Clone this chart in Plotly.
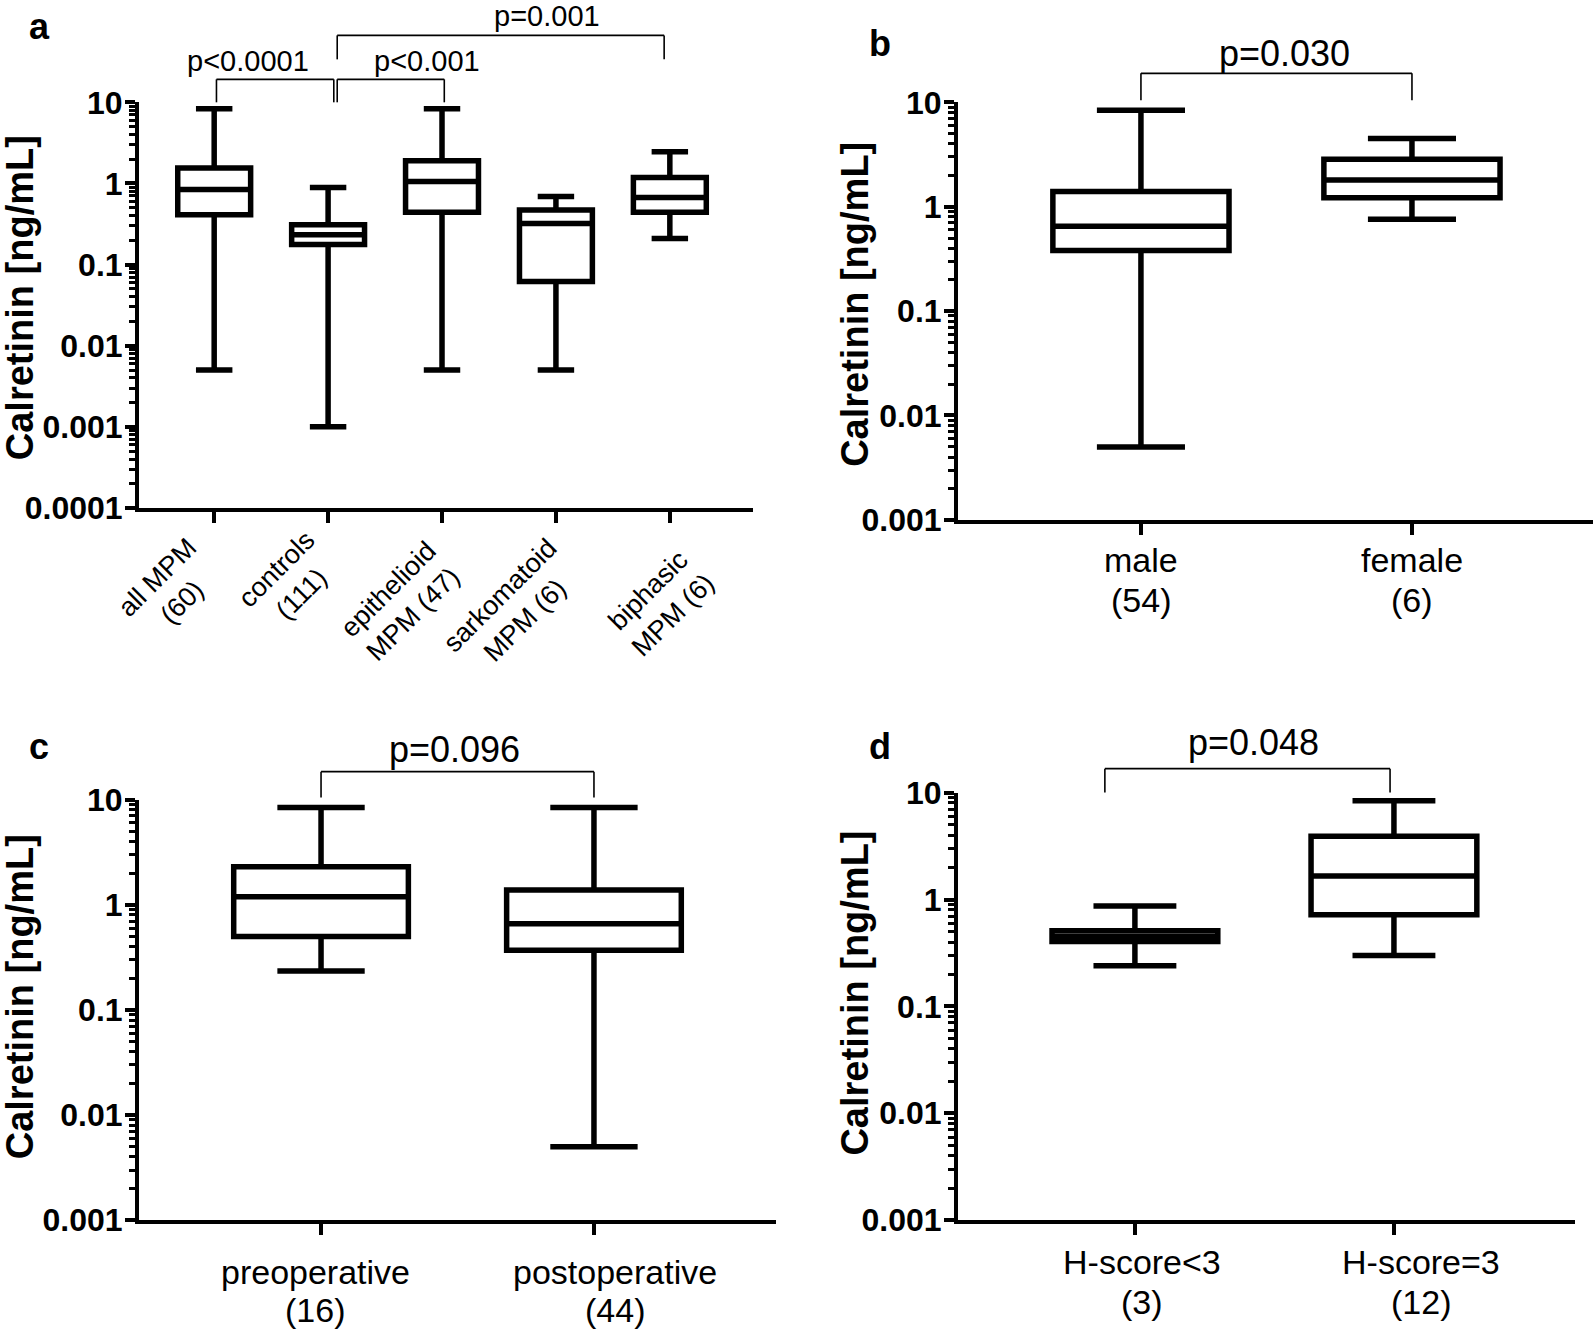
import plotly.graph_objects as go

W, H = 1593, 1334

# ---------------- data ----------------
a_cats = ["all MPM<br>(60)", "controls<br>(111)", "epithelioid<br>MPM (47)", "sarkomatoid<br>MPM (6)", "biphasic<br>MPM (6)"]
a_min = [0.005, 0.001, 0.005, 0.005, 0.21]
a_q1 = [0.41, 0.177, 0.44, 0.062, 0.44]
a_med = [0.84, 0.233, 1.06, 0.32, 0.67]
a_q3 = [1.55, 0.31, 1.9, 0.47, 1.18]
a_max = [8.3, 0.89, 8.3, 0.69, 2.45]

b_cats = ["male<br>(54)", "female<br>(6)"]
b_min = [0.005, 0.76]
b_q1 = [0.38, 1.22]
b_med = [0.65, 1.8]
b_q3 = [1.4, 2.85]
b_max = [8.4, 4.5]

c_cats = ["preoperative<br>(16)", "postoperative<br>(44)"]
c_min = [0.235, 0.005]
c_q1 = [0.5, 0.37]
c_med = [1.19, 0.66]
c_q3 = [2.3, 1.38]
c_max = [8.4, 8.4]

d_cats = ["H-score<3<br>(3)", "H-score=3<br>(12)"]
d_min = [0.24, 0.30]
d_q1 = [0.405, 0.72]
d_med = [0.45, 1.66]
d_q3 = [0.51, 3.9]
d_max = [0.87, 8.4]

a_tickvals = [0.0001, 0.001, 0.01, 0.1, 1, 10]
a_ticktext = ["0.0001", "0.001", "0.01", "0.1", "1", "10"]
bcd_tickvals = [0.001, 0.01, 0.1, 1, 10]
bcd_ticktext = ["0.001", "0.01", "0.1", "1", "10"]

pvals_a = ["p<0.0001", "p<0.001", "p=0.001"]
p_b, p_c, p_d = "p=0.030", "p=0.096", "p=0.048"
ytitle = "Calretinin [ng/mL]"

# ---------------- styling ----------------
FONT = "Liberation Sans, Arial"
LW = 5.5


def T(y):
    # target screen pixel row -> layout pixel row (compensates the capture's vertical squeeze)
    return (y - 17.6) / 0.974


def px_x(p):
    return p / W


def px_y(p):
    return 1 - T(p) / H


def minor_vals(lo, hi):
    vals = []
    e = lo
    while e < hi:
        for k in range(2, 10):
            vals.append(k * 10 ** e)
        e += 1
    return vals


fig = go.Figure()


def add_box(cats, lo, q1, med, q3, hi, xa, ya, width):
    fig.add_trace(go.Box(
        x=cats, lowerfence=lo, q1=q1, median=med, q3=q3, upperfence=hi,
        xaxis=xa, yaxis=ya, boxpoints=False, fillcolor="white",
        line=dict(color="black", width=LW), width=width, whiskerwidth=0.5,
        showlegend=False, hoverinfo="skip"))


add_box(a_cats, a_min, a_q1, a_med, a_q3, a_max, "x", "y", 0.64)
add_box(b_cats, b_min, b_q1, b_med, b_q3, b_max, "x2", "y2", 0.65)
add_box(c_cats, c_min, c_q1, c_med, c_q3, c_max, "x3", "y3", 0.64)
add_box(d_cats, d_min, d_q1, d_med, d_q3, d_max, "x4", "y4", 0.64)


def xax(left, right, rng):
    return dict(domain=[px_x(left), px_x(right)], type="category", range=rng,
                showline=True, linewidth=4, linecolor="black", ticks="outside",
                ticklen=11, tickwidth=4, tickcolor="black", showticklabels=False,
                showgrid=False, zeroline=False, fixedrange=True)


def yax(top, bottom, rng, tv, tt):
    return dict(domain=[px_y(bottom), px_y(top)], type="log", range=rng,
                tickmode="array", tickvals=tv, ticktext=tt,
                showline=True, linewidth=4, linecolor="black", ticks="outside",
                ticklen=10, tickwidth=4, tickcolor="black", ticklabelstandoff=-4,
                tickfont=dict(family=FONT, size=32, color="black", weight="bold"),
                minor=dict(tickmode="array", tickvals=minor_vals(rng[0], rng[1]),
                           ticks="outside", ticklen=6, tickwidth=3, tickcolor="black",
                           showgrid=False),
                showgrid=False, zeroline=False, fixedrange=True)


# panel frames in target pixels: (left, right, top, bottom)
PA = (139, 753, 102, 508)
PB = (958, 1593, 102, 520)
PC = (139, 776, 800, 1221)
PD = (958, 1575, 793, 1221)

fig.update_layout(
    width=W, height=H, autosize=False,
    margin=dict(l=0, r=0, t=0, b=0),
    paper_bgcolor="white", plot_bgcolor="white",
    xaxis=dict(xax(PA[0], PA[1], [-0.66, 4.73]), anchor="y"),
    yaxis=dict(yax(PA[2], PA[3], [-4, 1], a_tickvals, a_ticktext), anchor="x"),
    xaxis2=dict(xax(PB[0], PB[1], [-0.675, 1.668]), anchor="y2"),
    yaxis2=dict(yax(PB[2], PB[3], [-3, 1], bcd_tickvals, bcd_ticktext), anchor="x2"),
    xaxis3=dict(xax(PC[0], PC[1], [-0.667, 1.667]), anchor="y3"),
    yaxis3=dict(yax(PC[2], PC[3], [-3, 1], bcd_tickvals, bcd_ticktext), anchor="x3"),
    xaxis4=dict(xax(PD[0], PD[1], [-0.683, 1.699]), anchor="y4"),
    yaxis4=dict(yax(PD[2], PD[3], [-3, 1], bcd_tickvals, bcd_ticktext), anchor="x4"),
)

shapes = []
annots = []


def frac(panel, y):
    top, bot = T(panel[2]), T(panel[3])
    return (bot - T(y)) / (bot - top)


def bracket(xr, yr, panel, x0, x1, ytop, ybot, xtext, ytext, label, tfs):
    yt, yb = frac(panel, ytop), frac(panel, ybot)
    for (a0, b0, a1, b1) in [(x0, yb, x0, yt), (x0, yt, x1, yt), (x1, yt, x1, yb)]:
        shapes.append(dict(type="line", xref=xr, yref=yr, x0=a0, y0=b0, x1=a1, y1=b1,
                           line=dict(color="black", width=1.6)))
    annots.append(dict(xref=xr, yref=yr, x=xtext, y=frac(panel, ytext),
                       yanchor="middle", xanchor="center", text=label, showarrow=False,
                       font=dict(family=FONT, size=tfs, color="black")))


bracket("x", "y domain", PA, 0.02, 1.05, 79, 102, 0.30, 61, pvals_a[0], 29)
bracket("x", "y domain", PA, 1.08, 2.02, 79, 102, 1.87, 61, pvals_a[1], 29)
bracket("x", "y domain", PA, 1.08, 3.95, 35, 59, 2.92, 16, pvals_a[2], 29)
bracket("x2", "y2 domain", PB, 0, 1, 73, 100, 0.53, 53, p_b, 36)
bracket("x3", "y3 domain", PC, 0, 1, 772, 798, 0.49, 750, p_c, 36)
bracket("x4", "y4 domain", PD, -0.116, 0.985, 769, 793, 0.456, 743, p_d, 36)

# rotated category labels of panel a (centre of each label block, target px)
a_lab_dx = [-44, -39, -41, -43, -9]
a_lab_y = [590, 582, 602, 608, 603]
for i, lab in enumerate(a_cats):
    annots.append(dict(xref="x", yref="paper", x=i, xshift=a_lab_dx[i], y=px_y(a_lab_y[i]),
                       text=lab, textangle=-45, showarrow=False, align="center",
                       xanchor="center", yanchor="middle",
                       font=dict(family=FONT, size=27, color="black")))

# two-line category labels of panels b, c, d (line centres, target px)
for cats, xr, xs, ys in [
    (b_cats, "x2", [0, 1], [560, 600]),
    (c_cats, "x3", [-0.022, 1.077], [1273, 1311]),
    (d_cats, "x4", [0.027, 1.103], [1263, 1303]),
]:
    for i, lab in enumerate(cats):
        for line, yy in zip(lab.split("<br>"), ys):
            annots.append(dict(xref=xr, yref="paper", x=xs[i], y=px_y(yy), text=line,
                               showarrow=False, xanchor="center", yanchor="middle",
                               font=dict(family=FONT, size=34, color="black")))

for yr, xpix, yc in [("y domain", 20, 0.517), ("y2 domain", 855, 0.515),
                     ("y3 domain", 20, 0.53), ("y4 domain", 855, 0.53)]:
    annots.append(dict(xref="paper", yref=yr, x=px_x(xpix), y=yc, text=ytitle,
                       textangle=-90, showarrow=False, xanchor="center", yanchor="middle",
                       font=dict(family=FONT, size=38, color="black", weight="bold")))

for lab, xp, yp in [("a", 39, 26), ("b", 880, 43), ("c", 39, 747), ("d", 880, 747)]:
    annots.append(dict(xref="paper", yref="paper", x=px_x(xp), y=px_y(yp), text=lab,
                       showarrow=False, xanchor="center", yanchor="middle",
                       font=dict(family=FONT, size=36, color="black", weight="bold")))

fig.update_layout(shapes=shapes, annotations=annots)
fig.write_html("out.html", config={"displayModeBar": False},
               post_script="document.body.style.margin='0';document.documentElement.style.overflow='hidden';document.body.style.overflow='hidden';")
